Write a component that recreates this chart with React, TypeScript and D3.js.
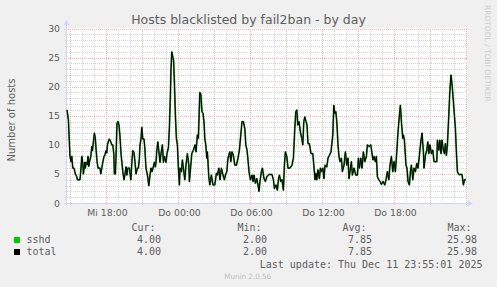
import React, { useEffect, useRef } from "react";
import * as d3 from "d3";

const W = 497;
const H = 287;
const title = "Hosts blacklisted by fail2ban - by day";
const yAxisLabel = "Number of hosts";
const watermark = "RRDTOOL / TOBI OETIKER";
const footer = "Munin 2.0.56";
const lastUpdate = "Last update: Thu Dec 11 23:55:01 2025";

// start of the graph window and its length (minutes)
const startTime = new Date(2025, 11, 10, 14, 45);
const spanMinutes = 2000;

// sampled points: minutes after startTime and number of hosts
const minutesFromStart = [
  0, 7, 15, 20, 24, 29, 35, 42, 49, 52, 65, 70, 74, 79, 82, 89, 92, 95, 102, 105,
  109, 112, 119, 124, 127, 132, 137, 142, 145, 150, 155, 165, 169, 174, 179, 185, 190, 195, 199, 202,
  209, 212, 219, 224, 229, 234, 237, 242, 245, 250, 255, 260, 265, 270, 279, 285, 290, 295, 299, 304,
  312, 319, 325, 329, 335, 340, 345, 352, 357, 362, 365, 370, 374, 379, 385, 389, 395, 402, 409, 415,
  420, 425, 430, 437, 442, 445, 449, 454, 459, 465, 470, 477, 482, 487, 495, 500, 507, 512, 517, 520,
  524, 530, 533, 537, 542, 547, 552, 557, 562, 565, 572, 577, 584, 589, 595, 602, 609, 612, 619, 624,
  632, 640, 645, 652, 657, 664, 669, 675, 680, 685, 689, 694, 699, 702, 709, 714, 722, 730, 739, 747,
  752, 759, 765, 772, 780, 787, 792, 799, 805, 814, 819, 825, 832, 839, 847, 855, 862, 869, 875, 882,
  889, 894, 900, 905, 910, 917, 925, 930, 935, 942, 949, 955, 960, 965, 972, 977, 985, 992, 999, 1009,
  1025, 1032, 1037, 1045, 1052, 1057, 1062, 1069, 1075, 1082, 1087, 1092, 1099, 1105, 1115, 1125, 1132, 1139, 1144, 1149,
  1154, 1160, 1167, 1174, 1179, 1184, 1189, 1195, 1200, 1205, 1212, 1220, 1229, 1234, 1240, 1245, 1249, 1255, 1262, 1267,
  1274, 1279, 1285, 1290, 1299, 1305, 1312, 1320, 1329, 1334, 1339, 1344, 1349, 1355, 1360, 1365, 1372, 1377, 1385, 1392,
  1399, 1405, 1410, 1415, 1422, 1427, 1435, 1444, 1452, 1457, 1462, 1469, 1475, 1482, 1489, 1497, 1502, 1510, 1519, 1524,
  1530, 1535, 1542, 1547, 1552, 1559, 1565, 1572, 1580, 1589, 1595, 1602, 1609, 1615, 1622, 1629, 1635, 1642, 1649, 1655,
  1662, 1667, 1672, 1679, 1682, 1687, 1695, 1700, 1705, 1712, 1717, 1722, 1729, 1735, 1742, 1749, 1755, 1762, 1769, 1775,
  1782, 1785, 1792, 1799, 1804, 1809, 1815, 1822, 1829, 1835, 1849, 1852, 1859, 1864, 1870, 1875, 1882, 1887, 1892, 1897,
  1902, 1909, 1914, 1920, 1925, 1930, 1937, 1942, 1947, 1952, 1959, 1967, 1975, 1982, 1987, 1994,
];
const sshdValues = [
  16, 14.3, 8, 7.1, 8, 6, 6, 5, 4.5, 4, 4, 6, 8, 6.8, 5, 7, 6, 7, 6.6, 8,
  6.3, 7, 8, 9.7, 9, 10.5, 12, 11, 9.4, 7.2, 6, 6, 5, 6, 7, 8, 8.3, 9, 8.6, 10,
  10.8, 11, 10.5, 10, 10, 8.5, 5, 5, 8, 13.7, 14, 13.4, 11.4, 8.5, 5.4, 4, 5, 6.2, 4.8, 6,
  6, 4, 7.4, 9, 8.7, 7, 5, 6, 6, 7.7, 10, 11, 13, 11, 11, 9.5, 6, 4.8, 3, 4.8,
  6, 5.4, 6, 7, 6.2, 7, 9, 10.5, 9, 7, 8.5, 10, 7, 8, 7, 8.5, 9.5, 13, 18.5, 23,
  25.98, 25, 24.5, 20.8, 15.1, 11.1, 10, 6, 3.1, 6, 5.4, 7.4, 5.4, 4, 6.5, 8.5, 6.5, 3.7, 6.5, 8.5,
  9.1, 10, 8.8, 11.7, 11.1, 19, 18.7, 15.7, 15.4, 14, 11.1, 10, 7.7, 8.8, 4.5, 3.1, 4.8, 3.1, 3.1, 5.1,
  4.8, 6, 4, 6, 4.8, 4, 4.8, 5.4, 7.7, 8.8, 7.1, 8.8, 8.2, 6.5, 6.5, 7.7, 9.1, 11.7, 14, 14,
  12.8, 10, 9.1, 7.4, 5.4, 4, 4.8, 3.7, 4.8, 3.4, 4.2, 3.1, 2, 3.7, 5.4, 6, 4.2, 3.7, 4.5, 4.9,
  4.9, 4, 2.5, 3.1, 2.2, 4, 4.8, 3.7, 4, 2.2, 6.5, 8.8, 8, 6, 6, 6.5, 7.7, 12.8, 15.7, 16,
  13.4, 14, 12.2, 11.1, 10, 14, 14.8, 14, 13.4, 10.2, 10.2, 8.5, 8.5, 6.5, 4, 5.1, 4, 5.7, 4.2, 6,
  5.4, 6, 4.2, 6.5, 6.2, 7.7, 8.2, 8.8, 11.7, 16.8, 15.4, 15.7, 14, 10, 8, 7.1, 7.7, 5.4, 6.5, 8.8,
  6.5, 7.7, 4.2, 5.4, 7.1, 4.8, 6, 4.8, 4.8, 7.7, 6, 7.7, 6, 8.8, 7.1, 8, 10, 9.7, 10, 8.8,
  7.4, 8, 7.1, 8, 4.5, 4, 3.7, 3.2, 3.7, 3.1, 4, 5.4, 4, 6.5, 8, 5.4, 7.1, 5.4, 8.8, 12.2,
  15.1, 16.8, 14, 11.1, 11.7, 10.8, 6.5, 6, 3.7, 3.1, 5.4, 6.5, 4, 6, 5.4, 6.8, 6, 8.2, 10.5, 12,
  8.8, 6, 8.2, 9.1, 10.5, 8.5, 10, 8.5, 9.1, 7.1, 7.1, 10.8, 9.1, 10.8, 8.5, 10.8, 9.1, 8.5, 10.2, 8.2,
  10, 15.1, 19.1, 22, 20.5, 18.3, 15.1, 12.8, 8.8, 5.4, 4.9, 4.9, 4.9, 3.1, 4, 4,
];

const yTicks = [0, 5, 10, 15, 20, 25, 30];
const dayAbbr = ["So", "Mo", "Di", "Mi", "Do", "Fr", "Sa"];

const legendNames = ["sshd", "total"];
const legendColors = ["#00cc00", "#000000"];
const legendHeaders = ["Cur:", "Min:", "Avg:", "Max:"];
const curValues = [4.0, 4.0];
const minValues = [2.0, 2.0];
const avgValues = [7.85, 7.85];
const maxValues = [25.98, 25.98];

export default function App() {
  const ref = useRef<SVGSVGElement | null>(null);

  useEffect(() => {
    const svg = d3.select(ref.current);
    svg.selectAll("*").remove();

    const plotL = 67, plotR = 467, plotT = 28.5, plotB = 203;
    const endTime = new Date(startTime.getTime() + spanMinutes * 60000);
    const x = d3.scaleTime().domain([startTime, endTime]).range([plotL, plotR]);
    const y = d3.scaleLinear().domain([0, 30]).range([plotB, plotT]);
    const sans = "'DejaVu Sans', Verdana, sans-serif";
    const mono = "'DejaVu Sans Mono', monospace";
    const fontColor = "#5e5e5e";
    const axisColor = "#CFD6F8";
    const minorGrid = "#d6d6d6";
    const majorGrid = "#f5b3b3";

    svg.append("rect").attr("width", W).attr("height", H).attr("fill", "#F0F0F0");
    svg.append("rect").attr("x", plotL).attr("y", plotT).attr("width", plotR - plotL).attr("height", plotB - plotT).attr("fill", "#ffffff");

    const grid = svg.append("g").attr("shape-rendering", "crispEdges");
    // minor horizontal grid
    d3.range(0, 31, 1).filter((v) => v % 5 !== 0).forEach((v) => {
      const yy = Math.round(y(v)) + 0.5;
      grid.append("line").attr("x1", plotL - 2).attr("x2", plotR).attr("y1", yy).attr("y2", yy)
        .attr("stroke", minorGrid).attr("stroke-dasharray", "1,1");
    });
    // minor vertical grid (hourly)
    const hours = d3.timeHour.range(startTime, endTime);
    hours.filter((d) => d.getHours() % 3 !== 0).forEach((d) => {
      const xx = Math.round(x(d)) + 0.5;
      grid.append("line").attr("x1", xx).attr("x2", xx).attr("y1", plotT).attr("y2", plotB + 2)
        .attr("stroke", minorGrid).attr("stroke-dasharray", "1,1");
    });
    // major horizontal grid
    yTicks.forEach((v) => {
      const yy = Math.round(y(v)) + 0.5;
      if (v !== 0) {
        grid.append("line").attr("x1", plotL - 3).attr("x2", plotR).attr("y1", yy).attr("y2", yy)
          .attr("stroke", majorGrid).attr("stroke-dasharray", "1,1");
      }
      svg.append("text").attr("x", 60).attr("y", y(v) + 3.5).attr("text-anchor", "end")
        .attr("font-family", sans).attr("font-size", 9.3).attr("fill", fontColor).text(String(v));
    });
    // major vertical grid every 3 hours, labels every 6 hours
    hours.filter((d) => d.getHours() % 3 === 0).forEach((d) => {
      const xx = Math.round(x(d)) + 0.5;
      grid.append("line").attr("x1", xx).attr("x2", xx).attr("y1", plotT).attr("y2", plotB + 3)
        .attr("stroke", majorGrid).attr("stroke-dasharray", "1,1");
      if (d.getHours() % 6 === 0 && x(d) < plotR - 20) {
        const label = `${dayAbbr[d.getDay()]} ${d3.timeFormat("%H:%M")(d)}`;
        svg.append("text").attr("x", x(d) + 1.5).attr("y", 216).attr("text-anchor", "middle")
          .attr("font-family", sans).attr("font-size", 9.3).attr("fill", fontColor).text(label);
      }
    });

    // axes with arrows
    svg.append("line").attr("x1", plotL - 0.5).attr("x2", plotL - 0.5).attr("y1", plotB + 3).attr("y2", 22)
      .attr("stroke", axisColor);
    svg.append("line").attr("x1", plotL - 3).attr("x2", 470).attr("y1", plotB + 0.5).attr("y2", plotB + 0.5)
      .attr("stroke", axisColor);
    svg.append("path").attr("d", `M${plotL - 3.5},${25} L${plotL - 0.5},${20} L${plotL + 2.5},${25} Z`).attr("fill", axisColor);
    svg.append("path").attr("d", `M${468},${plotB - 2.5} L${473},${plotB + 0.5} L${468},${plotB + 3.5} Z`).attr("fill", axisColor);

    // data lines
    const points = minutesFromStart.map((m, i) => ({ t: new Date(startTime.getTime() + m * 60000), v: sshdValues[i] }));
    const totalPoints = points.map((p, i) => ({ t: p.t, v: d3.sum([sshdValues[i]]) }));
    const line = d3.line<{ t: Date; v: number }>().x((d) => x(d.t)).y((d) => y(d.v));
    svg.append("path").attr("d", line(points)).attr("fill", "none").attr("stroke", "#2f8f2f").attr("stroke-width", 1.8)
      .attr("stroke-linejoin", "round");
    svg.append("path").attr("d", line(totalPoints)).attr("fill", "none").attr("stroke", legendColors[1]).attr("stroke-width", 1)
      .attr("stroke-linejoin", "round");

    // title
    svg.append("text").attr("x", 248.5).attr("y", 24).attr("text-anchor", "middle")
      .attr("font-family", sans).attr("font-size", 12.5).attr("fill", fontColor).text(title);
    // y axis label
    svg.append("text").attr("transform", `translate(14.5,120) rotate(-90)`).attr("text-anchor", "middle")
      .attr("font-family", sans).attr("font-size", 10).attr("fill", fontColor).text(yAxisLabel);
    // watermark
    svg.append("text").attr("transform", `translate(485,5) rotate(90)`).attr("text-anchor", "start")
      .attr("font-family", sans).attr("font-size", 7.5).attr("fill", "#cccccc").text(watermark);

    // legend
    const colEnds = [161, 267, 372, 477];
    legendHeaders.forEach((h, i) => {
      svg.append("text").attr("x", colEnds[i] - 29.5).attr("y", 231).attr("font-family", mono).attr("font-size", 10)
        .attr("fill", fontColor).text(h);
    });
    const cols = [curValues, minValues, avgValues, maxValues];
    legendNames.forEach((name, r) => {
      const by = 243 + r * 12;
      svg.append("rect").attr("x", 14).attr("y", by - 6).attr("width", 6).attr("height", 6).attr("fill", legendColors[r]);
      svg.append("text").attr("x", 26.5).attr("y", by).attr("font-family", mono).attr("font-size", 10)
        .attr("fill", fontColor).text(name);
      cols.forEach((arr, c) => {
        svg.append("text").attr("x", colEnds[c]).attr("y", by).attr("text-anchor", "end").attr("font-family", mono)
          .attr("font-size", 10).attr("fill", fontColor).text(arr[r].toFixed(2));
      });
    });
    svg.append("text").attr("x", 482.5).attr("y", 267.5).attr("text-anchor", "end").attr("font-family", mono)
      .attr("font-size", 10).attr("fill", fontColor).text(lastUpdate);
    svg.append("text").attr("x", 247.7).attr("y", 278.5).attr("text-anchor", "middle").attr("font-family", sans)
      .attr("font-size", 7.2).attr("fill", "#c0c0c0").text(footer);
  }, []);

  return (
    <svg ref={ref} width={W} height={H} style={{ position: "absolute", left: 0, top: 0, display: "block" }} />
  );
}
